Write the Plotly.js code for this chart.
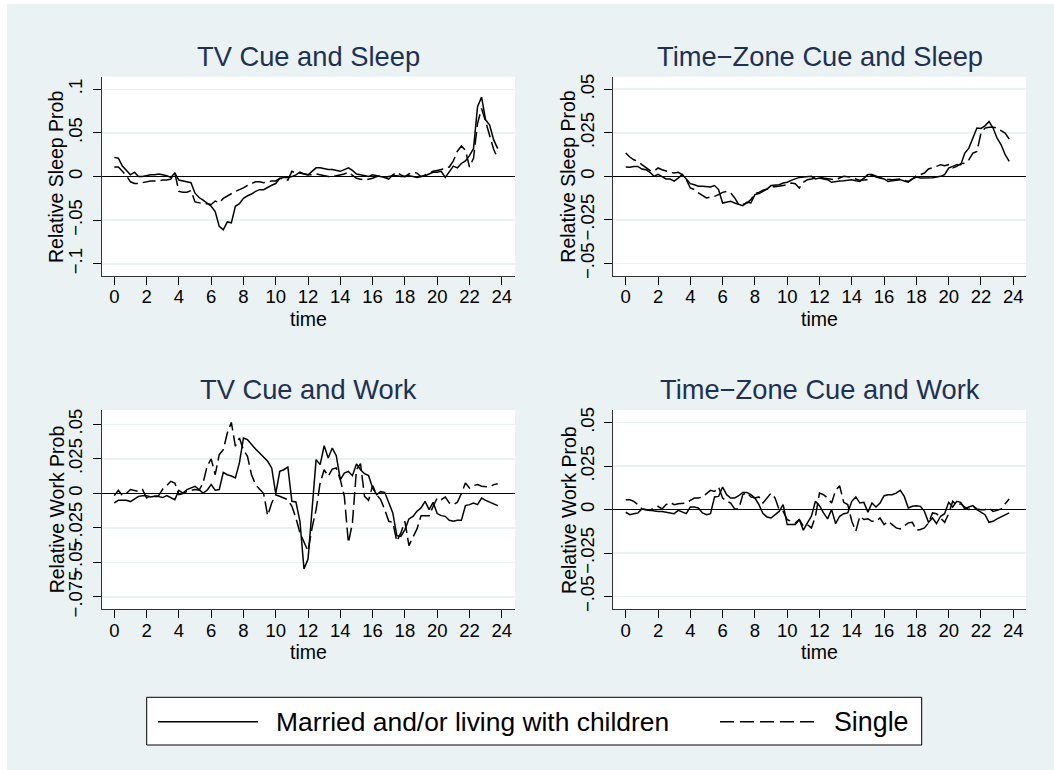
<!DOCTYPE html>
<html>
<head>
<meta charset="utf-8">
<script src="https://cdn.plot.ly/plotly-3.0.1.min.js"></script>
<style>
  html, body { margin: 0; padding: 0; background: #ffffff; }
  #plot { position: absolute; left: 7px; top: 4px; width: 1047px; height: 766px; }
</style>
</head>
<body>
<div id="plot"></div>
<script>
const hours = [0,0.25,0.5,0.75,1,1.25,1.5,1.75,2,2.25,2.5,2.75,3,3.25,3.5,3.75,4,4.25,4.5,4.75,5,5.25,5.5,5.75,6,6.25,6.5,6.75,7,7.25,7.5,7.75,8,8.25,8.5,8.75,9,9.25,9.5,9.75,10,10.25,10.5,10.75,11,11.25,11.5,11.75,12,12.25,12.5,12.75,13,13.25,13.5,13.75,14,14.25,14.5,14.75,15,15.25,15.5,15.75,16,16.25,16.5,16.75,17,17.25,17.5,17.75,18,18.25,18.5,18.75,19,19.25,19.5,19.75,20,20.25,20.5,20.75,21,21.25,21.5,21.75,22,22.25,22.5,22.75,23,23.25,23.5,23.75];

const tvSleepMarried = [
 0.022,0.021,0.012,0.007, 0.002,0.005,0.000,0.000, 0.001,0.002,0.002,0.003, 0.002,0.001,-0.001,0.004,
 -0.004,-0.005,-0.006,-0.007, -0.019,-0.024,-0.027,-0.031, -0.034,-0.040,-0.057,-0.061, -0.052,-0.053,-0.034,-0.031,
 -0.025,-0.022,-0.020,-0.017, -0.015,-0.015,-0.012,-0.010, -0.008,-0.002,-0.001,-0.001, 0.000,0.002,0.005,0.003,
 0.002,0.006,0.010,0.010, 0.009,0.008,0.008,0.007, 0.006,0.008,0.010,0.007, 0.003,0.002,0.001,0.000,
 0.002,0.001,0.000,-0.001, 0.000,0.001,0.001,0.000, 0.000,0.001,0.000,-0.001, 0.000,0.001,0.003,0.005,
 0.005,0.006,-0.001,0.006, 0.012,0.010,0.015,0.018, 0.024,0.032,0.080,0.091, 0.065,0.059,0.042,0.032];
const tvSleepSingle = [
 0.011,0.011,0.006,0.001, -0.006,-0.008,-0.008,-0.007, -0.006,-0.005,-0.005,-0.005, -0.004,-0.004,-0.003,0.004,
 -0.017,-0.018,-0.018,-0.016, -0.029,-0.030,-0.031,-0.031, -0.032,-0.028,-0.030,-0.025, -0.022,-0.020,-0.017,-0.015,
 -0.013,-0.010,-0.008,-0.006, -0.006,-0.007,-0.006,-0.005, -0.005,-0.002,-0.003,-0.004, 0.006,0.004,0.004,0.003,
 0.002,0.002,0.003,0.002, 0.001,0.000,0.000,0.001, 0.002,0.003,0.005,0.002, -0.002,-0.003,-0.004,-0.003,
 -0.002,0.000,0.001,-0.001, -0.003,0.002,0.005,0.002, 0.000,0.003,0.005,0.004, 0.000,0.002,0.004,0.006,
 0.007,0.008,0.010,0.011, 0.018,0.029,0.035,0.030, 0.011,0.021,0.061,0.078, 0.063,0.046,0.031,0.021];

const tzSleepMarried = [
 0.0053,0.0052,0.0057,0.0057, 0.0042,0.0038,0.0023,0.0000, 0.0011,-0.0004,-0.0015,-0.0015, -0.0027,-0.0010,0.0010,-0.0015,
 -0.0042,-0.0048,-0.0057,-0.0057, -0.0057,-0.0061,-0.0053,-0.0076, -0.0153,-0.0149,-0.0143,-0.0153, -0.0162,-0.0168,-0.0149,-0.0153,
 -0.0105,-0.0099,-0.0086,-0.0073, -0.0053,-0.0052,-0.0048,-0.0038, -0.0034,-0.0023,-0.0015,-0.0006, -0.0004,-0.0002,0.0000,-0.0015,
 -0.0010,-0.0015,-0.0019,-0.0034, -0.0029,-0.0027,-0.0025,-0.0023, -0.0019,-0.0025,-0.0029,-0.0010, 0.0010,0.0010,0.0000,-0.0008,
 -0.0015,-0.0029,-0.0025,-0.0023, -0.0019,-0.0027,-0.0034,-0.0015, -0.0004,-0.0010,-0.0010,-0.0008, -0.0008,-0.0004,0.0000,0.0010,
 0.0048,0.0057,0.0067,0.0067, 0.0134,0.0162,0.0219,0.0277, 0.0275,0.0290,0.0315,0.0277, 0.0219,0.0181,0.0124,0.0086];
const tzSleepSingle = [
 0.0134,0.0111,0.0095,0.0086, 0.0067,0.0048,0.0034,0.0029, 0.0048,0.0038,0.0029,0.0023, 0.0019,0.0023,0.0010,-0.0019,
 -0.0067,-0.0076,-0.0095,-0.0111, -0.0124,-0.0118,-0.0115,-0.0105, -0.0092,-0.0086,-0.0095,-0.0124, -0.0162,-0.0162,-0.0153,-0.0134,
 -0.0099,-0.0092,-0.0080,-0.0073, -0.0061,-0.0059,-0.0057,-0.0052, -0.0048,-0.0038,-0.0042,-0.0067, -0.0034,-0.0019,-0.0015,-0.0008,
 -0.0004,-0.0010,-0.0015,-0.0017, -0.0019,-0.0010,0.0000,-0.0002, -0.0004,-0.0015,-0.0023,-0.0021, -0.0019,0.0010,-0.0004,-0.0010,
 -0.0015,-0.0017,-0.0019,-0.0017, -0.0015,-0.0023,-0.0029,-0.0015, 0.0004,0.0010,0.0019,0.0042, 0.0048,0.0057,0.0067,0.0061,
 0.0067,0.0048,0.0057,0.0073, 0.0076,0.0095,0.0134,0.0143, 0.0248,0.0277,0.0282,0.0282, 0.0277,0.0263,0.0248,0.0214];

const tvWorkMarried = [
 -0.0070,-0.0051,-0.0051,-0.0051, -0.0060,-0.0041,-0.0022,-0.0017, -0.0017,-0.0027,-0.0022,-0.0024, -0.0031,-0.0017,-0.0029,-0.0046,
 0.0022,0.0002,0.0027,0.0039, 0.0051,0.0027,0.0002,0.0022, 0.0063,0.0022,0.0027,0.0152, 0.0135,0.0125,0.0111,0.0220,
 0.0401,0.0389,0.0353,0.0321, 0.0292,0.0263,0.0232,0.0184, -0.0002,0.0159,0.0171,0.0191, -0.0058,-0.0063,-0.0203,-0.0548,
 -0.0476,-0.0118,0.0244,0.0208, 0.0345,0.0256,0.0328,0.0273, 0.0099,0.0147,0.0159,0.0128, 0.0213,0.0171,0.0142,0.0128,
 0.0039,-0.0010,0.0012,0.0007, -0.0065,-0.0142,-0.0307,-0.0312, -0.0263,-0.0186,-0.0167,-0.0130, -0.0106,-0.0058,-0.0118,-0.0065,
 -0.0147,-0.0162,-0.0167,-0.0196, -0.0203,-0.0196,-0.0196,-0.0089, -0.0082,-0.0070,-0.0082,-0.0034, -0.0051,-0.0065,-0.0077,-0.0089];
const tvWorkSingle = [
 -0.0017,0.0022,-0.0017,-0.0002, 0.0027,0.0022,0.0014,0.0027, -0.0034,-0.0017,-0.0022,-0.0017, 0.0031,0.0056,0.0087,0.0075,
 -0.0010,-0.0002,0.0014,0.0022, 0.0027,0.0022,0.0075,0.0196, 0.0249,0.0135,0.0280,0.0316, 0.0437,0.0514,0.0341,0.0401,
 0.0316,0.0268,0.0135,0.0063, 0.0027,-0.0002,-0.0162,-0.0070, -0.0010,-0.0022,-0.0029,-0.0046, -0.0094,-0.0179,-0.0287,-0.0360,
 -0.0420,-0.0251,-0.0118,0.0075, 0.0171,0.0123,0.0176,0.0184, 0.0099,-0.0022,-0.0360,-0.0215, 0.0171,0.0215,-0.0022,-0.0051,
 0.0056,-0.0010,-0.0046,-0.0118, -0.0203,-0.0210,-0.0348,-0.0287, -0.0203,-0.0379,-0.0324,-0.0258, -0.0162,-0.0162,-0.0162,-0.0094,
 -0.0034,-0.0046,-0.0027,-0.0070, -0.0082,-0.0065,-0.0002,0.0075, 0.0039,0.0056,0.0063,0.0051, 0.0046,0.0046,0.0063,0.0070];

const tzWorkMarried = [
 -0.0015,-0.0029,-0.0023,-0.0019, 0.0004,0.0000,-0.0004,-0.0006, -0.0010,-0.0011,-0.0015,-0.0019, -0.0023,-0.0004,-0.0015,-0.0023,
 0.0015,0.0015,0.0010,-0.0019, -0.0029,-0.0023,0.0073,0.0076, 0.0130,0.0086,0.0067,0.0067, 0.0080,0.0099,0.0099,0.0086,
 0.0067,0.0029,-0.0023,-0.0042, -0.0048,-0.0029,-0.0010,0.0029, -0.0086,-0.0086,-0.0086,-0.0057, -0.0118,-0.0076,-0.0038,0.0048,
 0.0023,-0.0019,-0.0053,0.0000, -0.0080,-0.0038,-0.0023,-0.0019, 0.0048,0.0073,0.0038,0.0042, -0.0015,0.0038,0.0015,0.0038,
 0.0080,0.0086,0.0086,0.0095, 0.0111,0.0076,0.0010,0.0019, 0.0023,0.0019,-0.0010,-0.0073, -0.0048,-0.0080,-0.0038,-0.0023,
 0.0042,0.0015,0.0048,0.0042, 0.0004,0.0015,0.0023,0.0000, -0.0015,-0.0029,-0.0073,-0.0067, -0.0053,-0.0042,-0.0029,-0.0019];
const tzWorkSingle = [
 0.0057,0.0057,0.0048,0.0029, 0.0004,0.0000,-0.0004,0.0010, 0.0019,0.0004,0.0029,0.0042, 0.0029,0.0034,0.0034,0.0038,
 0.0053,0.0067,0.0067,0.0073, 0.0092,0.0111,0.0105,0.0130, 0.0067,0.0048,0.0038,0.0004, 0.0004,0.0086,0.0099,0.0073,
 0.0067,0.0073,0.0038,0.0067, 0.0095,0.0067,0.0000,-0.0010, -0.0057,-0.0067,-0.0076,-0.0057, -0.0095,-0.0086,-0.0105,-0.0038,
 0.0095,0.0086,0.0067,0.0038, 0.0111,0.0137,0.0042,0.0029, -0.0067,-0.0124,-0.0038,-0.0057, -0.0053,-0.0067,-0.0067,-0.0048,
 -0.0086,-0.0067,-0.0086,-0.0105, -0.0111,-0.0095,-0.0076,-0.0073, -0.0118,-0.0114,-0.0105,-0.0076, -0.0019,-0.0023,-0.0048,-0.0073,
 -0.0023,0.0048,0.0023,0.0034, 0.0015,0.0000,0.0019,0.0004, 0.0000,0.0000,0.0010,-0.0010, -0.0004,0.0004,0.0034,0.0061];

const panelTitles = ["TV Cue and Sleep", "Time\u2212Zone Cue and Sleep", "TV Cue and Work", "Time\u2212Zone Cue and Work"];
const yTitles = ["Relative Sleep Prob", "Relative Sleep Prob", "Relative Work Prob", "Relative Work Prob"];
const xTitle = "time";
const xTickVals = [0,2,4,6,8,10,12,14,16,18,20,22,24];
const yTickVals1 = [-0.1,-0.05,0,0.05,0.1];
const yTickText1 = ["\u2212.1","\u2212.05","0",".05",".1"];
const yTickVals2 = [-0.05,-0.025,0,0.025,0.05];
const yTickText2 = ["\u2212.05","\u2212.025","0",".025",".05"];
const yTickVals3 = [-0.075,-0.05,-0.025,0,0.025,0.05];
const yTickText3 = ["\u2212.075","\u2212.05","\u2212.025","0",".025",".05"];
const legendLabels = ["Married and/or living with children", "Single"];

const FONT = "'Liberation Sans', Arial, Helvetica, sans-serif";
const DASH = "13px,5px";
const LW = 1.5;

const W = 1047, H = 766, OX = 7, OY = 4;
const fx = X => (X - OX) / W;
const fy = Y => 1 - (Y - OY) / H;

const panels = [
  {xs:'x',  ys:'y',  married: tvSleepMarried, single: tvSleepSingle, L:101.7, R:515,  T:76.7, B:276,   xr:[-0.78,24.82], yr:[-0.1139,0.1144], tv:yTickVals1, tt:yTickText1},
  {xs:'x2', ys:'y2', married: tzSleepMarried, single: tzSleepSingle, L:613.3, R:1026, T:76.7, B:276,   xr:[-0.77,24.79], yr:[-0.0572,0.0572], tv:yTickVals2, tt:yTickText2},
  {xs:'x3', ys:'y3', married: tvWorkMarried,  single: tvWorkSingle,  L:101.7, R:515,  T:410,  B:609.3, xr:[-0.78,24.82], yr:[-0.0841,0.0604], tv:yTickVals3, tt:yTickText3},
  {xs:'x4', ys:'y4', married: tzWorkMarried,  single: tzWorkSingle,  L:613.3, R:1026, T:410,  B:609.3, xr:[-0.77,24.79], yr:[-0.0573,0.0573], tv:yTickVals2, tt:yTickText2}
];

const traces = [];
const layout = {
  width: W, height: H,
  margin: {l:0, r:0, t:0, b:0},
  paper_bgcolor: '#EAF2F3',
  plot_bgcolor: '#FFFFFF',
  showlegend: false,
  font: {family: FONT, color: '#000'},
  annotations: [],
  shapes: []
};

panels.forEach((p, i) => {
  traces.push({x: hours, y: p.married, xaxis: p.xs, yaxis: p.ys, type: 'scatter', mode: 'lines',
    name: legendLabels[0], line: {color: '#000', width: LW}, hoverinfo: 'skip'});
  traces.push({x: hours, y: p.single, xaxis: p.xs, yaxis: p.ys, type: 'scatter', mode: 'lines',
    name: legendLabels[1], line: {color: '#000', width: LW, dash: DASH}, hoverinfo: 'skip'});
  const n = i === 0 ? '' : String(i + 1);
  layout['xaxis' + n] = {
    domain: [fx(p.L), fx(p.R)], anchor: 'y' + n, range: p.xr,
    tickmode: 'array', tickvals: xTickVals, ticktext: xTickVals.map(String),
    ticks: 'outside', ticklen: 8, tickwidth: 1, tickcolor: '#000',
    ticklabelstandoff: -4,
    showline: true, linecolor: '#333', linewidth: 1,
    showgrid: false, zeroline: false,
    tickfont: {size: 18.5, family: FONT, color: '#000'}
  };
  layout['yaxis' + n] = {
    domain: [fy(p.B), fy(p.T)], anchor: 'x' + n, range: p.yr,
    tickmode: 'array', tickvals: p.tv, ticktext: p.tt, tickangle: -90,
    ticks: 'outside', ticklen: 8, tickwidth: 1, tickcolor: '#000',
    ticklabelstandoff: 3,
    showline: true, linecolor: '#333', linewidth: 1,
    showgrid: true, gridcolor: '#EAF2F3', gridwidth: 1.5,
    zeroline: true, zerolinecolor: '#000', zerolinewidth: 1.6,
    tickfont: {size: 18.5, family: FONT, color: '#000'}
  };
  const cx = (p.L + p.R) / 2, cy = (p.T + p.B) / 2;
  layout.annotations.push({xref:'paper', yref:'paper', x: fx(cx), y: fy(p.T - 20.5), text: panelTitles[i],
    showarrow:false, xanchor:'center', yanchor:'middle', font:{size:27.3, family:FONT, color:'#1E3152'}});
  layout.annotations.push({xref:'paper', yref:'paper', x: fx(cx), y: fy(p.B + 42.8), text: xTitle,
    showarrow:false, xanchor:'center', yanchor:'middle', font:{size:19.5, family:FONT, color:'#000'}});
  layout.annotations.push({xref:'paper', yref:'paper', x: fx(p.L - 45), y: fy(cy), text: yTitles[i], textangle: -90,
    showarrow:false, xanchor:'center', yanchor:'middle', font:{size:19.5, family:FONT, color:'#000'}});
});

// Legend box (drawn as shapes + text)
const LG = {L:146.7, R:921.7, T:697.3, B:745, cy:721.7};
layout.shapes.push({type:'rect', xref:'paper', yref:'paper', x0: fx(LG.L), x1: fx(LG.R), y0: fy(LG.B), y1: fy(LG.T),
  line:{color:'#000', width:1}, fillcolor:'#FFFFFF', layer:'below'});
layout.shapes.push({type:'line', xref:'paper', yref:'paper', x0: fx(158), x1: fx(258), y0: fy(LG.cy), y1: fy(LG.cy),
  line:{color:'#000', width:1.6}});
layout.shapes.push({type:'line', xref:'paper', yref:'paper', x0: fx(720), x1: fx(820), y0: fy(LG.cy), y1: fy(LG.cy),
  line:{color:'#000', width:1.6, dash:'14px,6px'}});
layout.annotations.push({xref:'paper', yref:'paper', x: fx(274), y: fy(LG.cy), text: legendLabels[0],
  showarrow:false, xanchor:'left', yanchor:'middle', font:{size:26.4, family:FONT, color:'#000'}});
layout.annotations.push({xref:'paper', yref:'paper', x: fx(832), y: fy(LG.cy), text: legendLabels[1],
  showarrow:false, xanchor:'left', yanchor:'middle', font:{size:26.8, family:FONT, color:'#000'}});

Plotly.newPlot('plot', traces, layout, {staticPlot: true, displayModeBar: false});
</script>
</body>
</html>
